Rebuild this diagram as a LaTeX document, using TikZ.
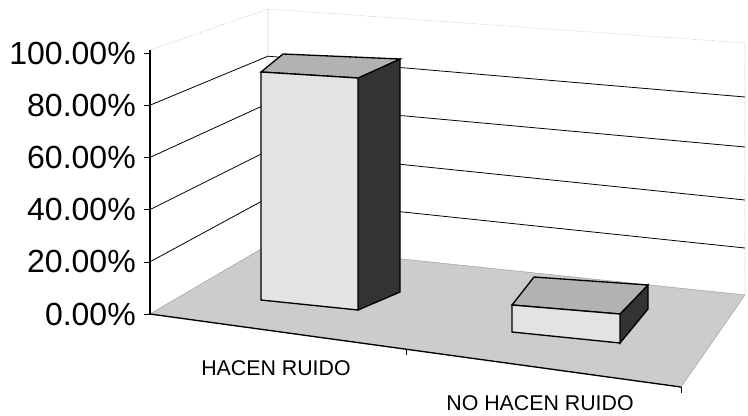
\documentclass[tikz,border=0pt]{standalone}
\usepackage{fontspec}
\setmainfont{Liberation Sans}
\begin{document}
\begin{tikzpicture}[x=0.75pt,y=-0.75pt,
  wall/.style={draw=gray!70,densely dotted,fill=white},
  gridline/.style={black,line width=0.6pt},
  floorpane/.style={draw=gray!70,fill=gray!40},
  ticklab/.style={anchor=east,inner sep=0pt,font=\fontsize{24}{24}\selectfont},
  catlab/.style={inner sep=0pt,font=\fontsize{16}{16}\selectfont},
  barfront/.style={draw=black,line width=1pt,fill=gray!22},
  bartop/.style={draw=black,line width=1pt,fill=gray!60},
  barside/.style={draw=black,line width=1pt,fill=black!80}]
\useasboundingbox (0,0) rectangle (748,415);
% walls and floor corners
\coordinate (FL0) at (150,314);
\coordinate (FL100) at (150,50);
\coordinate (BL0) at (268,245);
\coordinate (BL100) at (268,9);
\coordinate (BR0) at (745,295);
\coordinate (BR100) at (745,43);
\coordinate (FR0) at (681,387);
\draw[wall] (FL0) -- (FL100) -- (BL100) -- (BL0) -- cycle;
\draw[wall] (BL0) -- (BL100) -- (BR100) -- (BR0) -- cycle;
\draw[gridline] (150,261.8) -- (268,197.8) -- (745,248);
\draw[gridline] (150,209.6) -- (268,150.6) -- (745,200);
\draw[gridline] (150,157.4) -- (268,103.4) -- (745,147);
\draw[gridline] (150,105.2) -- (268,56.2) -- (745,97);
\draw[floorpane] (FL0) -- (BL0) -- (BR0) -- (FR0) -- cycle;
\draw[black,line width=1pt] (FL0) -- (FR0);
% value axis
\draw[black,line width=1pt] (FL0) -- (FL100);
\draw (150,314) -- (144,314);
\draw (150,261.8) -- (144,261.8);
\draw (150,209.6) -- (144,209.6);
\draw (150,157.4) -- (144,157.4);
\draw (150,105.2) -- (144,105.2);
\draw (150,53) -- (144,53);
\node[ticklab] (L100) at (136,53) {100.00\%};
\node[ticklab] (L80) at (136,105.2) {80.00\%};
\node[ticklab] (L60) at (136,157.4) {60.00\%};
\node[ticklab] (L40) at (136,209.6) {40.00\%};
\node[ticklab] (L20) at (136,261.8) {20.00\%};
\node[ticklab] (L0) at (136,314) {0.00\%};
% category ticks
\draw (406,349) -- (406,355);
\draw (681,387) -- (681,393);
% bar HACEN RUIDO
\draw[barside] (358,78) -- (400,59) -- (400,292) -- (358,310) -- cycle;
\draw[bartop] (261,72) -- (358,78) -- (400,59) -- (283,54) -- cycle;
\draw[barfront] (261,72) -- (358,78) -- (358,310) -- (261,300) -- cycle;
% bar NO HACEN RUIDO
\draw[barside] (620,314) -- (648,285) -- (648,309) -- (620,343) -- cycle;
\draw[bartop] (512,305) -- (620,314) -- (648,285) -- (534,277) -- cycle;
\draw[barfront] (512,305) -- (620,314) -- (620,343) -- (512,332) -- cycle;
% category labels
\node[catlab] (C1) at (276,368) {HACEN RUIDO};
\node[catlab] (C2) at (540,403) {NO HACEN RUIDO};
\end{tikzpicture}
\end{document}
